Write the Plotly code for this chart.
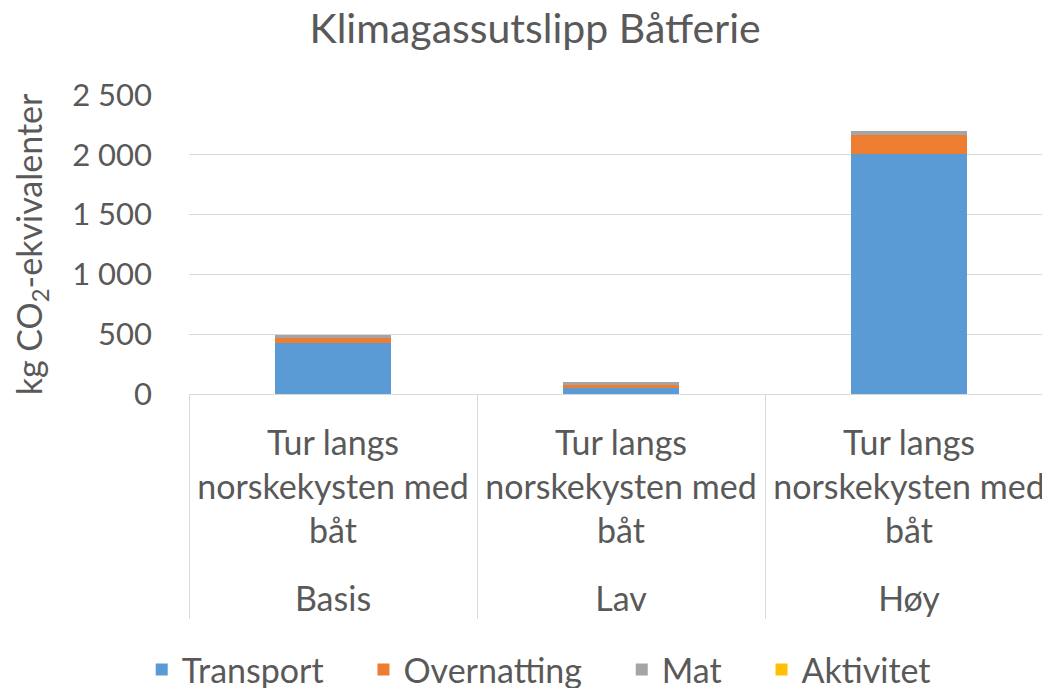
import plotly.graph_objects as go

scenarios = ["Basis", "Lav", "Høy"]
trip = "Tur langs<br>norskekysten med<br>båt"
transport = [430, 50, 2010]
overnatting = [35, 28, 155]
mat = [25, 20, 30]
aktivitet = [0, 0, 0]
series = [("Transport", transport, "#5b9bd5"),
          ("Overnatting", overnatting, "#ed7d31"),
          ("Mat", mat, "#a5a5a5"),
          ("Aktivitet", aktivitet, "#ffc000")]

FONT = "Lato"
TXT = "#595959"
x = [["<br>" + s for s in scenarios], [trip] * len(scenarios)]
PAD = "\u00a0" * 4

fig = go.Figure()
for name, vals, col in series:
    fig.add_trace(go.Bar(x=x, y=vals, name=name + PAD, marker=dict(color=col, line=dict(width=0))))

fig.update_layout(
    barmode="stack",
    bargap=0.6,
    width=1050, height=688,
    margin=dict(l=181, r=5, t=87, b=302),
    paper_bgcolor="white", plot_bgcolor="white",
    font=dict(family=FONT, color=TXT, size=34),
    title=dict(text="Klimagassutslipp Båtferie", x=0.502, xanchor="center", y=0.991, yanchor="top",
               font=dict(size=41, color=TXT, family=FONT)),
    legend=dict(orientation="h", x=0.425, xanchor="center", yref="container", y=0.038, yanchor="middle",
                font=dict(size=34, color=TXT), traceorder="normal", itemwidth=30),
    yaxis=dict(range=[0, 2500], dtick=500, tickformat=",d", separatethousands=True,
               gridcolor="#d9d9d9", gridwidth=1, zeroline=False, showline=False,
               ticks="", tickfont=dict(size=31, color=TXT), ticklabelstandoff=36, automargin=False,
               title=dict(text="kg CO<sub>2</sub>-ekvivalenter", font=dict(size=34, color=TXT), standoff=22)),
    xaxis=dict(type="multicategory", showline=True, linecolor="#d9d9d9", linewidth=1,
               showdividers=True, dividercolor="#d9d9d9", dividerwidth=1, automargin=False,
               tickfont=dict(size=34, color=TXT), ticks="", ticklabelstandoff=19),
    separators=". ",
)
fig.write_html("out.html")
